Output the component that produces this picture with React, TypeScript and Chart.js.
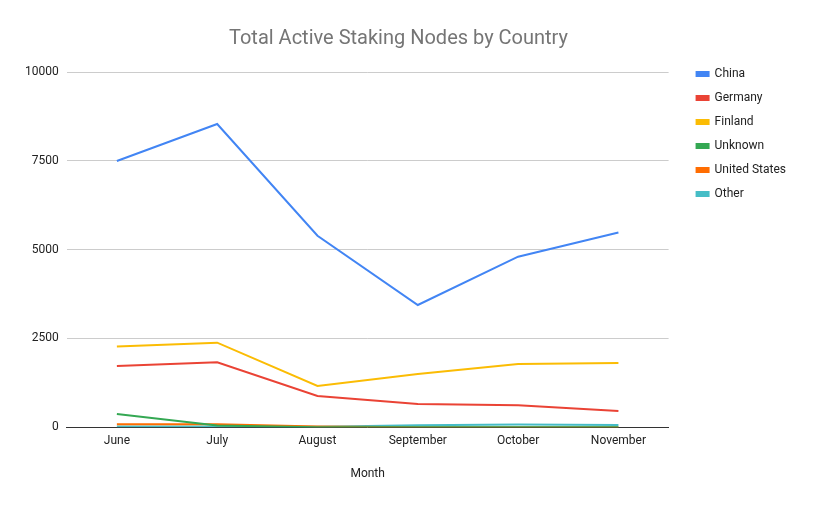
import React, { useEffect, useRef } from "react";
import { Chart, registerables } from "chart.js";

Chart.register(...registerables);

const months = ["June", "July", "August", "September", "October", "November"];
const china = [7495, 8535, 5390, 3440, 4800, 5480];
const germany = [1720, 1830, 880, 650, 620, 455];
const finland = [2270, 2380, 1160, 1500, 1780, 1810];
const unknown = [370, 50, 0, 0, 0, 0];
const unitedStates = [80, 80, 20, 0, 0, 0];
const other = [20, 20, 15, 55, 75, 65];

const FONT = "Roboto, 'Noto Sans', sans-serif";

const legendShift = {
  id: "legendShift",
  afterLayout(chart: any) {
    const lg = chart.legend;
    if (lg) {
      lg.left += 16;
      lg.right += 16;
      lg.top += 46;
      lg.bottom += 46;
    }
  },
};

export default function App() {
  const ref = useRef<HTMLCanvasElement>(null);
  useEffect(() => {
    document.body.style.margin = "0";
    const mk = (label: string, data: number[], color: string) => ({
      label,
      data,
      borderColor: color,
      backgroundColor: color,
      borderWidth: 2,
      pointRadius: 0,
      tension: 0,
    });
    const chart = new Chart(ref.current!, {
      type: "line",
      data: {
        labels: months,
        datasets: [
          mk("China", china, "#4285f4"),
          mk("Germany", germany, "#ea4335"),
          mk("Finland", finland, "#fbbc04"),
          mk("Unknown", unknown, "#34a853"),
          mk("United States", unitedStates, "#ff6d01"),
          mk("Other", other, "#46bdc6"),
        ],
      },
      plugins: [legendShift],
      options: {
        animation: false,
        responsive: false,
        layout: { padding: { left: 17, right: 36, top: 10, bottom: 24 } },
        plugins: {
          title: {
            display: true,
            text: "Total Active Staking Nodes by Country",
            color: "#757575",
            font: { family: FONT, size: 20, weight: "normal" },
            padding: { top: 17, bottom: 21 },
          },
          legend: {
            position: "right",
            align: "start",
            labels: {
              boxWidth: 12,
              boxHeight: 4,
              padding: 12,
              color: "#222",
              font: { family: FONT, size: 12 },
            },
          },
          tooltip: { enabled: false },
        },
        scales: {
          x: {
            offset: true,
            grid: { display: false, drawTicks: false },
            border: { color: "#333", width: 1 },
            ticks: { color: "#222", font: { family: FONT, size: 12 }, padding: 7 },
            title: {
              display: true,
              text: "Month",
              color: "#222",
              font: { family: FONT, size: 12 },
              padding: { top: 11, bottom: 0 },
            },
          },
          y: {
            min: 0,
            max: 10000,
            grid: { color: "#cccccc", drawTicks: false },
            border: { display: false },
            ticks: {
              stepSize: 2500,
              color: "#222",
              font: { family: FONT, size: 12 },
              padding: 8,
              callback: (v: any) => String(v),
            },
          },
        },
      },
    });
    return () => chart.destroy();
  }, []);
  return <canvas ref={ref} width={816} height={505} />;
}
